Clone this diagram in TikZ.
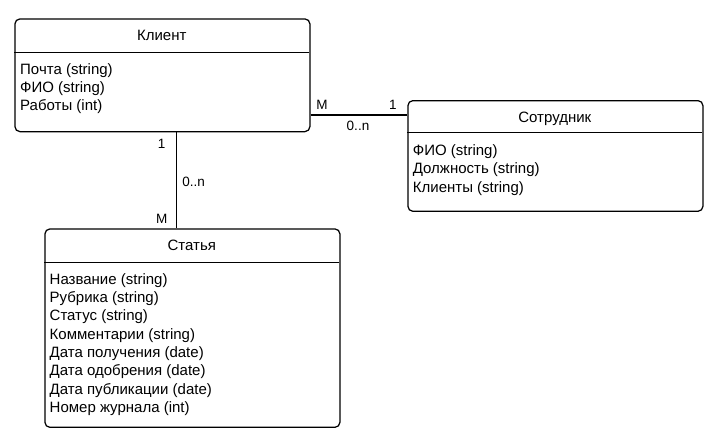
\documentclass[tikz,border=0pt]{standalone}
\usepackage{fontspec}
\setmainfont{Liberation Sans}
\begin{document}
\begin{tikzpicture}[x=1pt,y=-1pt,
  entity/.style={draw, rounded corners=5pt, line width=1.25pt, inner sep=0pt, anchor=north west, minimum width=295pt},
  sep/.style={line width=1.25pt},
  conn/.style={line width=1.25pt},
  title/.style={anchor=base, inner sep=0pt, font=\fontsize{15}{18}\selectfont},
  attr/.style={anchor=base west, inner sep=0pt, font=\fontsize{15}{18}\selectfont},
  lbl/.style={anchor=base, inner sep=0pt, font=\fontsize{13.5}{16}\selectfont}]
\useasboundingbox[fill=white] (0,0) rectangle (713,439);

% Клиент
\node[entity, minimum height=112.7pt] (kl) at (14.3,18.3) {};
\draw[sep] (14.3,52.5) -- (309.3,52.5);
\node[title] (klt) at (161.8,40.7) {Клиент};
\foreach \t [count=\i] in {Почта (string), ФИО (string), Работы (int)}
  \node[attr] (ka\i) at (20,{74.2+18.3*(\i-1)}) {\t};

% Сотрудник
\node[entity, minimum height=110.7pt] (so) at (407.3,100) {};
\draw[sep] (407.3,132.3) -- (702.3,132.3);
\node[title] (sot) at (554.8,122.4) {Сотрудник};
\foreach \t [count=\i] in {ФИО (string), Должность (string), Клиенты (string)}
  \node[attr] (sa\i) at (412.7,{155.5+18.3*(\i-1)}) {\t};

% Статья
\node[entity, minimum height=198.4pt] (st) at (44.3,228.3) {};
\draw[sep] (44.3,262.3) -- (339.3,262.3);
\node[title] (stt) at (191.8,250.7) {Статья};
\foreach \t [count=\i] in {Название (string), Рубрика (string), Статус (string), Комментарии (string), Дата получения (date), Дата одобрения (date), Дата публикации (date), Номер журнала (int)}
  \node[attr] (sta\i) at (49.5,{284+18.34*(\i-1)}) {\t};

% connectors
\coordinate (hk) at (kl.east |- 0,115);
\coordinate (hs) at (so.west |- 0,115);
\draw[conn] (hk) -- (hs);
\coordinate (vk) at (176.3,0 |- kl.south);
\coordinate (vs) at (176.3,0 |- st.north);
\draw[conn] (vk) -- (vs);

% labels
\node[lbl] (l1) at (322,109) {M};
\node[lbl] (l2) at (393,109) {1};
\node[lbl] (l3) at (358,130.7) {0..n};
\node[lbl] (l4) at (161.7,148.3) {1};
\node[lbl] (l5) at (193.7,186.7) {0..n};
\node[lbl] (l6) at (161.7,223.3) {M};
\end{tikzpicture}
\end{document}
